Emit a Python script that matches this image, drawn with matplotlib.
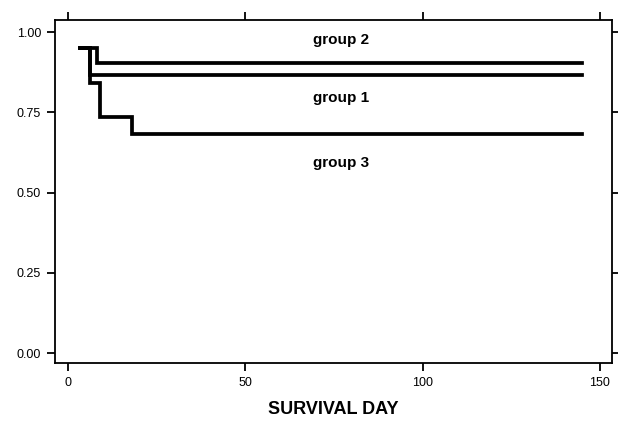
import matplotlib
matplotlib.use("Agg")
import matplotlib.pyplot as plt

# Kaplan-Meier step curves
g1_days = [3.5, 6.2, 145]
g1_surv = [0.95, 0.867, 0.867]
g2_days = [3.5, 8.2, 145]
g2_surv = [0.95, 0.905, 0.905]
g3_days = [3.5, 6.2, 9.0, 18.0, 145]
g3_surv = [0.95, 0.842, 0.737, 0.684, 0.684]

labels = ["group 2", "group 1", "group 3"]
label_x = [77, 77, 77]
label_y = [0.977, 0.796, 0.593]

xticks = [0, 50, 100, 150]
yticks = [0.0, 0.25, 0.5, 0.75, 1.0]

plt.rcParams['font.family'] = ['Liberation Sans', 'DejaVu Sans']

fig = plt.figure(figsize=(6.18, 4.21), dpi=100)
ax = fig.add_axes([55 / 618, 58 / 421, 557 / 618, 343 / 421])

for days, surv in [(g1_days, g1_surv), (g2_days, g2_surv), (g3_days, g3_surv)]:
    ax.step(days, surv, where='post', color='black', linewidth=2.7, solid_joinstyle='miter')

for txt, x, y in zip(labels, label_x, label_y):
    ax.text(x, y, txt, ha='center', va='center', fontsize=11, fontweight='bold')

ax.set_xlim(-3.67, 153.4)
ax.set_ylim(-0.031, 1.038)
ax.set_xticks(xticks)
ax.set_xticklabels([str(t) for t in xticks])
ax.set_yticks(yticks)
ax.set_yticklabels([f"{t:.2f}" for t in yticks])
ax.tick_params(direction='out', length=6, width=1.3, labelsize=9, pad=4,
               top=True, right=True, labeltop=False, labelright=False)
for s in ax.spines.values():
    s.set_linewidth(1.3)

ax.set_xlabel("SURVIVAL DAY", fontsize=13, fontweight='bold', labelpad=9)

fig.savefig("out.png", dpi=100)
